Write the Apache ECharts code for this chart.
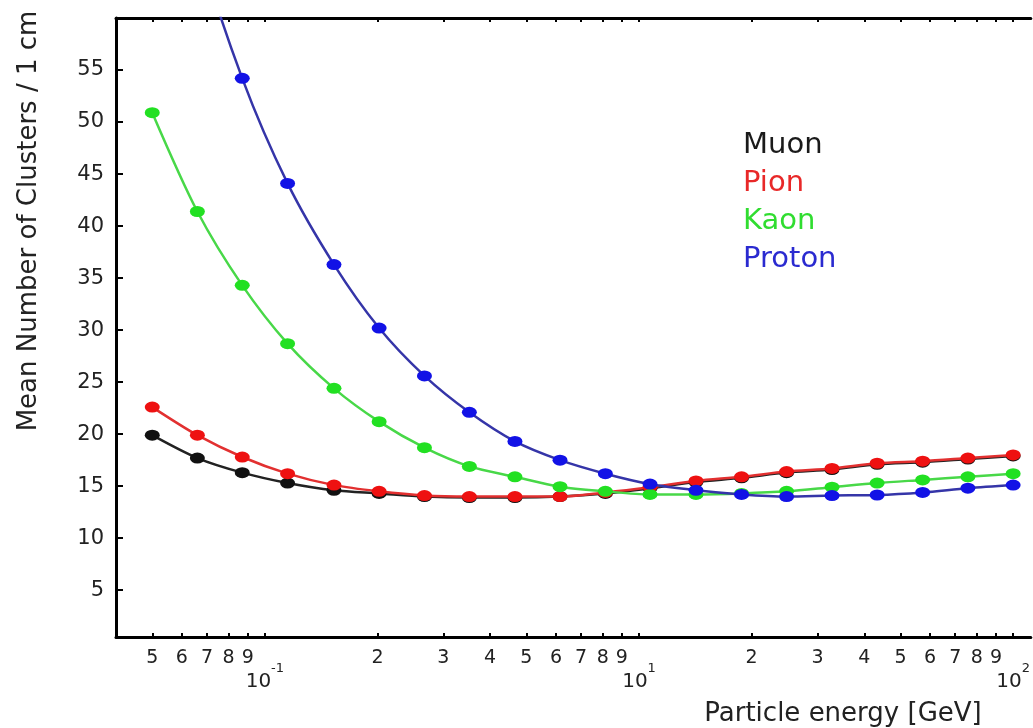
<!DOCTYPE html>
<html>
<head>
<meta charset="utf-8">
<title>Mean Number of Clusters vs Particle energy</title>
<script src="https://cdn.jsdelivr.net/npm/echarts@6/dist/echarts.min.js"></script>
<style>
  html, body { margin: 0; padding: 0; background: #ffffff; }
  #chart { width: 1033px; height: 728px; }
</style>
</head>
<body>
<div id="chart"></div>
<script>
// Particle energies [GeV] of the sampled points (log-spaced)
const energies = [0.05, 0.066, 0.087, 0.115, 0.153, 0.202, 0.267, 0.352, 0.466, 0.615,
                  0.813, 1.07, 1.42, 1.88, 2.48, 3.28, 4.33, 5.73, 7.57, 10];

// Mean number of clusters per 1 cm for each particle type
const muon   = [19.9, 17.7, 16.3, 15.3, 14.6, 14.3, 14.0, 13.9, 13.9, 14.0,
                14.3, 14.8, 15.4, 15.8, 16.3, 16.6, 17.1, 17.3, 17.6, 17.9];
const pion   = [22.6, 19.9, 17.8, 16.2, 15.1, 14.5, 14.1, 14.0, 14.0, 14.0,
                14.4, 14.9, 15.5, 15.9, 16.4, 16.7, 17.2, 17.4, 17.7, 18.0];
const kaon   = [50.9, 41.4, 34.3, 28.7, 24.4, 21.2, 18.7, 16.9, 15.9, 14.95,
                14.5, 14.2, 14.2, 14.3, 14.5, 14.9, 15.3, 15.6, 15.9, 16.2];
const proton = [84.3, 67.3, 54.2, 44.1, 36.3, 30.2, 25.6, 22.1, 19.3, 17.5,
                16.2, 15.2, 14.6, 14.2, 14.0, 14.1, 14.15, 14.4, 14.8, 15.1];

// Axis ticks and labels
const xMinorLabelValues = [0.05, 0.06, 0.07, 0.08, 0.09,
                           0.2, 0.3, 0.4, 0.5, 0.6, 0.7, 0.8, 0.9,
                           2, 3, 4, 5, 6, 7, 8, 9];
const xMinorLabelTexts  = ['5', '6', '7', '8', '9',
                           '2', '3', '4', '5', '6', '7', '8', '9',
                           '2', '3', '4', '5', '6', '7', '8', '9'];
const xDecadeValues     = [0.1, 1, 10];
const xDecadeExponents  = ['-1', '1', '2'];
const yTickValues       = [5, 10, 15, 20, 25, 30, 35, 40, 45, 50, 55];

const seriesNames   = ['Muon', 'Pion', 'Kaon', 'Proton'];
const seriesValues  = [muon, pion, kaon, proton];
const markerColors  = ['#111111', '#ee1111', '#22e022', '#1212e6'];
const lineColors    = ['#222222', '#e23030', '#48d848', '#3535a8'];
const legendColors  = ['#1a1a1a', '#e82828', '#30dd30', '#2a2ad0'];

const FONT = 'DejaVu Sans';
const xTickValues = xMinorLabelValues.concat(xDecadeValues);

const chart = echarts.init(document.getElementById('chart'), null, { renderer: 'canvas' });

// Energy range shown; the plot frame runs on past the right edge of the page
const logAxisBase = {
  type: 'log',
  logBase: 10,
  min: 0.04,
  max: 11.15,
  gridIndex: 0,
  splitLine: { show: false },
  minorTick: { show: false },
  minorSplitLine: { show: false }
};

const option = {
  backgroundColor: '#ffffff',
  animation: false,
  textStyle: { fontFamily: FONT },
  grid: { left: 116, top: 18, right: 0, height: 619, containLabel: false },
  legend: {
    orient: 'vertical',
    left: 733,
    top: 126,
    icon: 'rect',
    itemWidth: 0,
    itemHeight: 0,
    itemGap: 9,
    selectedMode: false,
    textStyle: { fontSize: 29, fontFamily: FONT },
    data: seriesNames.map((n, i) => ({ name: n, textStyle: { color: legendColors[i] } }))
  },
  xAxis: [
    Object.assign({}, logAxisBase, {
      position: 'bottom',
      axisLine: { show: true, onZero: false, lineStyle: { color: '#000', width: 3 } },
      axisTick: { show: true, inside: true, length: 4, customValues: xTickValues,
                  lineStyle: { color: '#000', width: 2 } },
      axisLabel: {
        show: true,
        customValues: xMinorLabelValues,
        formatter: (v) => {
          const i = xMinorLabelValues.findIndex(t => Math.abs(t - v) < 1e-9);
          return i >= 0 ? xMinorLabelTexts[i] : '';
        },
        fontSize: 19,
        color: '#222',
        margin: 12
      }
    }),
    Object.assign({}, logAxisBase, {
      position: 'bottom',
      axisLine: { show: false, onZero: false },
      axisTick: { show: false },
      axisLabel: {
        show: true,
        customValues: xDecadeValues,
        formatter: (v) => {
          const i = xDecadeValues.findIndex(t => Math.abs(t - v) < 1e-9);
          return i >= 0 ? '{b|10}{s|' + xDecadeExponents[i] + '}' : '';
        },
        margin: 25,
        rich: {
          b: { fontSize: 20, color: '#222', lineHeight: 30, verticalAlign: 'bottom', fontFamily: FONT },
          s: { fontSize: 13, color: '#222', lineHeight: 30, verticalAlign: 'top', fontFamily: FONT }
        }
      }
    }),
    Object.assign({}, logAxisBase, {
      position: 'top',
      axisLine: { show: true, onZero: false, lineStyle: { color: '#000', width: 3 } },
      axisTick: { show: true, inside: true, length: 4, customValues: xTickValues,
                  lineStyle: { color: '#000', width: 2 } },
      axisLabel: { show: false }
    })
  ],
  yAxis: [{
    type: 'value',
    min: 0.5,
    max: 60,
    gridIndex: 0,
    position: 'left',
    axisLine: { show: true, onZero: false, lineStyle: { color: '#000', width: 3 } },
    axisTick: { show: true, inside: true, length: 7, customValues: yTickValues,
                lineStyle: { color: '#000', width: 2 } },
    axisLabel: { show: true, customValues: yTickValues, fontSize: 21, color: '#222', margin: 12 },
    splitLine: { show: false }
  }],
  graphic: [
    {
      type: 'text',
      x: 29, y: 221,
      rotation: Math.PI / 2,
      style: {
        text: 'Mean Number of Clusters / 1 cm',
        fontSize: 26,
        fontFamily: FONT,
        fill: '#222',
        align: 'center',
        verticalAlign: 'middle'
      }
    },
    {
      type: 'text',
      x: 843, y: 714,
      style: {
        text: 'Particle energy [GeV]',
        fontSize: 26,
        fontFamily: FONT,
        fill: '#222',
        align: 'center',
        verticalAlign: 'middle'
      }
    }
  ],
  series: seriesNames.map((name, i) => ({
    name: name,
    type: 'line',
    xAxisIndex: 0,
    yAxisIndex: 0,
    data: energies.map((e, k) => [e, seriesValues[i][k]]),
    smooth: 0.3,
    clip: true,
    symbol: 'circle',
    symbolSize: [15, 11],
    showSymbol: true,
    lineStyle: { color: lineColors[i], width: 2.5 },
    itemStyle: { color: markerColors[i] },
    z: 2 + i
  }))
};

chart.setOption(option);
</script>
</body>
</html>
